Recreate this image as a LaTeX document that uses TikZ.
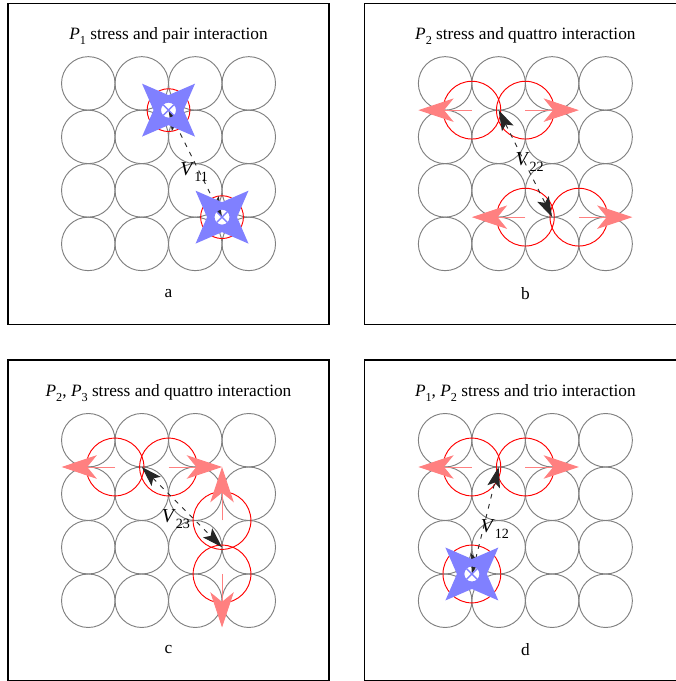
\documentclass[tikz,border=0pt]{standalone}
\usepackage{fontspec}
\setmainfont{Liberation Serif}
\usetikzlibrary{arrows.meta}

\newcommand{\lowsub}[1]{\raisebox{-0.28em}{\fontsize{6.5}{7}\selectfont #1}}
\newcommand{\linksub}[1]{\raisebox{-0.3em}{\fontsize{7.5}{8}\selectfont #1}}
\newcommand{\itP}{\textit{P}}
\newcommand{\itV}{\textit{V}}

\tikzset{
  frame/.style={draw=black, line width=0.6pt},
  cell/.style={draw=gray, line width=0.5pt},
  ring/.style={draw=red, line width=0.5pt},
  push/.style={draw=red!50, line width=0.5pt,
    -{Stealth[length=0.66cm, width=0.44cm, inset=0.18cm]}},
  link/.style={draw=black!85, line width=0.5pt, dash pattern=on 2.5pt off 3pt,
    {Stealth[length=0.38cm, width=0.24cm, inset=0.08cm]}-{Stealth[length=0.38cm, width=0.24cm, inset=0.08cm]}},
  vlabel/.style={font=\fontsize{10.5}{12}\selectfont},
  pstar/.pic={
    \fill[blue!50, even odd rule] (45:0.7) -- (90:0.28) -- (135:0.7) -- (180:0.28)
      -- (225:0.7) -- (270:0.28) -- (315:0.7) -- (0:0.28) -- cycle (0,0) circle (0.14);
    \draw[blue!50, line width=0.7pt] (45:0.14) -- (225:0.14) (135:0.14) -- (315:0.14);
  }
}

\begin{document}
\begin{tikzpicture}[font=\fontsize{9.2}{11}\selectfont]
  \useasboundingbox (-0.15,0) rectangle (12.467,12.729);

  % a: P1 stress, pair
  \begin{scope}[shift={(0,6.67)}]
    \draw[frame] (0,0) rectangle (6,6);
    \foreach \col in {0,...,3}
      \foreach \row in {0,...,3}
        \draw[cell] (1.5+\col,1.5+\row) circle (0.5);
    \node (ta) at (3,5.38) {\itP\lowsub{1} stress and pair interaction};
    \node (ca) at (3,0.58) {a};

    \coordinate (a1) at (3,4);
    \coordinate (a2) at (4,2);
    \draw[ring] (a1) circle (0.4);
    \draw[ring] (a2) circle (0.4);
    \draw[link] (a1) -- (a2);
    \pic at (a1) {pstar};
    \pic at (a2) {pstar};
    \node[vlabel] (va) at (3.48,2.84) {\itV\linksub{11}};
  \end{scope}

  % b: P2 stress, quattro
  \begin{scope}[shift={(6.67,6.67)}]
    \draw[frame] (0,0) rectangle (6,6);
    \foreach \col in {0,...,3}
      \foreach \row in {0,...,3}
        \draw[cell] (1.5+\col,1.5+\row) circle (0.5);
    \node (tb) at (3,5.38) {\itP\lowsub{2} stress and quattro interaction};
    \node (cb) at (3,0.58) {b};

    \coordinate (b1) at (2,4);
    \coordinate (b2) at (3,4);
    \coordinate (b3) at (3,2);
    \coordinate (b4) at (4,2);
    \coordinate (b1e) at (1,4);
    \coordinate (b2e) at (4,4);
    \coordinate (b3e) at (2,2);
    \coordinate (b4e) at (5,2);
    \coordinate (b12) at (2.5,4);
    \coordinate (b34) at (3.5,2);
    \foreach \p in {b1,b2,b3,b4}
      \draw[ring] (\p) circle (0.54);
    \draw[push] (b1) -- (b1e);
    \draw[push] (b2) -- (b2e);
    \draw[push] (b3) -- (b3e);
    \draw[push] (b4) -- (b4e);
    \draw[link] (b12) -- (b34);
    \node[vlabel] (vb) at (3.08,3.03) {\itV\linksub{22}};
  \end{scope}

  % c: P2, P3 stress, quattro
  \begin{scope}[shift={(0,0)}]
    \draw[frame] (0,0) rectangle (6,6);
    \foreach \col in {0,...,3}
      \foreach \row in {0,...,3}
        \draw[cell] (1.5+\col,1.5+\row) circle (0.5);
    \node (tc) at (3,5.38) {\itP\lowsub{2}, \itP\lowsub{3} stress and quattro interaction};
    \node (cc) at (3,0.58) {c};

    \coordinate (c1) at (2,4);
    \coordinate (c2) at (3,4);
    \coordinate (c3) at (4,3);
    \coordinate (c4) at (4,2);
    \coordinate (c1e) at (1,4);
    \coordinate (c2e) at (4,4);
    \coordinate (c3e) at (4,4);
    \coordinate (c4e) at (4,1);
    \coordinate (c12) at (2.5,4);
    \coordinate (c34) at (4,2.5);
    \foreach \p in {c1,c2,c3,c4}
      \draw[ring] (\p) circle (0.54);
    \draw[push] (c1) -- (c1e);
    \draw[push] (c2) -- (c2e);
    \draw[push] (c3) -- (c3e);
    \draw[push] (c4) -- (c4e);
    \draw[link] (c12) -- (c34);
    \node[vlabel] (vc) at (3.14,3.03) {\itV\linksub{23}};
  \end{scope}

  % d: P1, P2 stress, trio
  \begin{scope}[shift={(6.67,0)}]
    \draw[frame] (0,0) rectangle (6,6);
    \foreach \col in {0,...,3}
      \foreach \row in {0,...,3}
        \draw[cell] (1.5+\col,1.5+\row) circle (0.5);
    \node (td) at (3,5.38) {\itP\lowsub{1}, \itP\lowsub{2} stress and trio interaction};
    \node (cd) at (3,0.58) {d};

    \coordinate (d1) at (2,4);
    \coordinate (d2) at (3,4);
    \coordinate (d3) at (2,2);
    \coordinate (d1e) at (1,4);
    \coordinate (d2e) at (4,4);
    \coordinate (d12) at (2.5,4);
    \foreach \p in {d1,d2,d3}
      \draw[ring] (\p) circle (0.54);
    \draw[push] (d1) -- (d1e);
    \draw[push] (d2) -- (d2e);
    \draw[link] (d3) -- (d12);
    \pic at (d3) {pstar};
    \node[vlabel] (vd) at (2.43,2.84) {\itV\linksub{12}};
  \end{scope}
\end{tikzpicture}
\end{document}
